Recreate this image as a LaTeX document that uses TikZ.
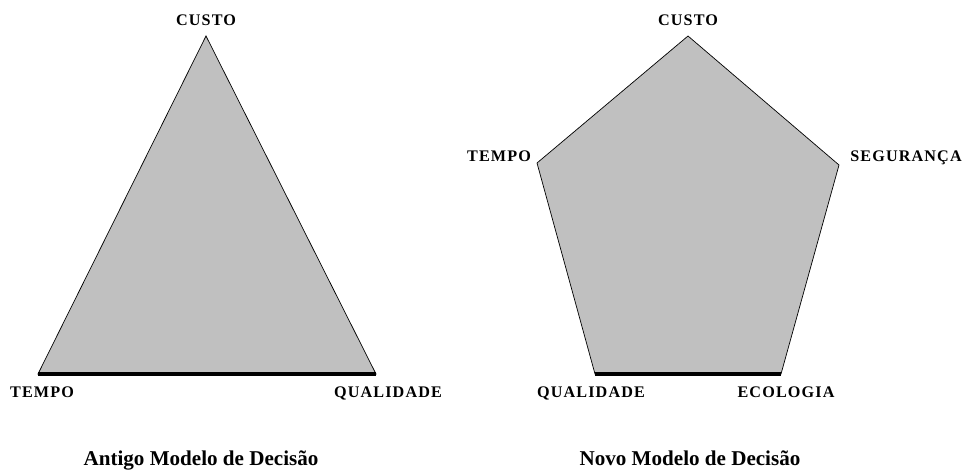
\documentclass[tikz,border=0pt]{standalone}
\usepackage{fontspec}
\setmainfont{Liberation Serif}
\newfontfamily\rotulo[LetterSpace=7]{Liberation Serif}
\definecolor{cinza}{HTML}{C0C0C0}
\begin{document}
\begin{tikzpicture}[x=0.02cm, y=-0.02cm, every node/.style={font=\rotulo\bfseries\fontsize{9.2}{10}\selectfont, inner sep=0pt, anchor=base}]

  % moldura (966 x 470)
  \useasboundingbox (0,0) rectangle (966,470);

  % vértices do triângulo (modelo antigo)
  \coordinate (C1) at (206,36);
  \coordinate (T1) at (38,374);
  \coordinate (Q1) at (376,374);

  % triângulo
  \filldraw[fill=cinza, draw=black, thin] (C1) -- (T1) -- (Q1) -- cycle;
  \draw[line width=2pt] (T1) -- (Q1);

  % rótulos do triângulo
  \node (custo1) at (206,25) {CUSTO};
  \node (tempo1) at (42,397) {TEMPO};
  \node (qual1) at (388,397) {QUALIDADE};
  \node[font=\bfseries\fontsize{12}{14}\selectfont] (tit1) at (201,465) {Antigo Modelo de Decisão};

  % vértices do pentágono (modelo novo)
  \coordinate (C2) at (688,36);
  \coordinate (S2) at (839,165);
  \coordinate (E2) at (781,374);
  \coordinate (Q2) at (595,374);
  \coordinate (T2) at (537,163);

  % pentágono
  \filldraw[fill=cinza, draw=black, thin] (C2) -- (S2) -- (E2) -- (Q2) -- (T2) -- cycle;
  \draw[line width=2pt] (Q2) -- (E2);

  % rótulos do pentágono
  \node (custo2) at (688,25) {CUSTO};
  \node (tempo2) at (499,161) {TEMPO};
  \node (seg2) at (906,161) {SEGURANÇA};
  \node (qual2) at (591,397) {QUALIDADE};
  \node (eco2) at (786,397) {ECOLOGIA};
  \node[font=\bfseries\fontsize{12}{14}\selectfont] (tit2) at (690,465) {Novo Modelo de Decisão};

\end{tikzpicture}
\end{document}
